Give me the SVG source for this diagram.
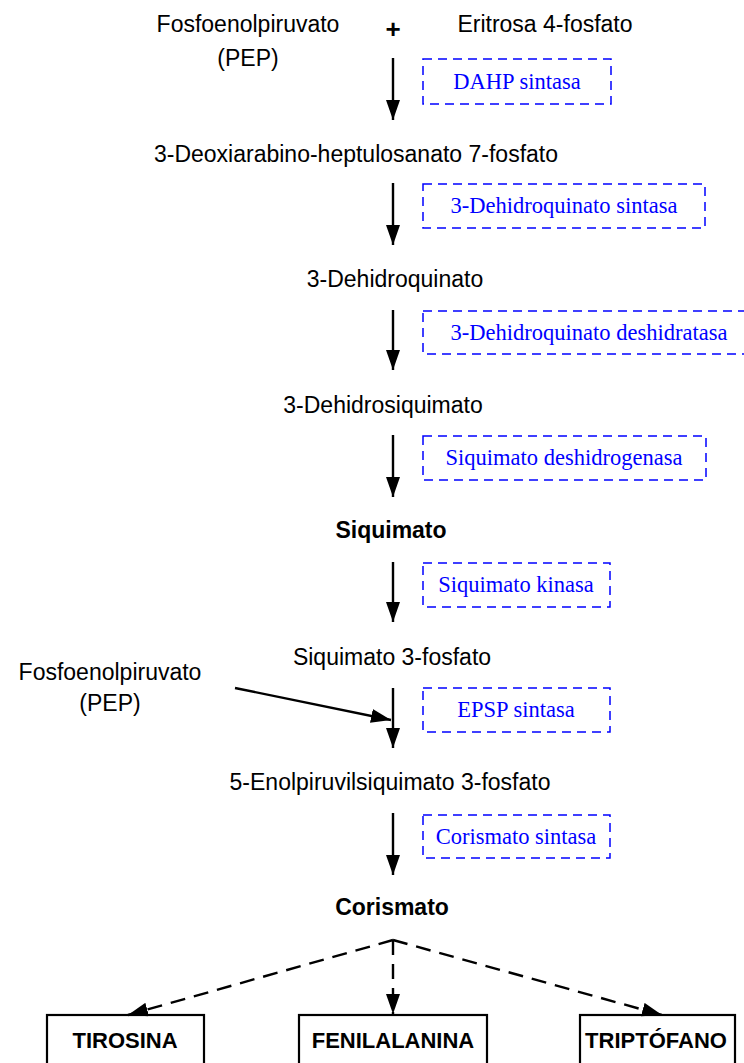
<svg xmlns="http://www.w3.org/2000/svg" width="744" height="1063" viewBox="0 0 744 1063">
<defs>
<marker id="ah" viewBox="0 0 20 14" refX="20" refY="7" markerWidth="20" markerHeight="14" markerUnits="userSpaceOnUse" orient="auto">
<path d="M0,0 L20,7 L0,14 Z" fill="#000"/>
</marker>
<style>
.t{font-family:"Liberation Sans",Arial,sans-serif;font-size:23px;fill:#000;text-anchor:middle}
.b{font-family:"Liberation Sans",Arial,sans-serif;font-size:23px;font-weight:bold;fill:#000;text-anchor:middle}
.e{font-family:"Liberation Serif","Times New Roman",serif;font-size:22.5px;fill:#0000FF;text-anchor:middle}
.eb{fill:none;stroke:#0000FF;stroke-width:1.5;stroke-dasharray:9,6}
.a{stroke:#000;stroke-width:2.4;fill:none;marker-end:url(#ah)}
.d{stroke:#000;stroke-width:2.4;fill:none;stroke-dasharray:15,9;marker-end:url(#ah)}
.pb{fill:#fff;stroke:#000;stroke-width:2.2}
</style>
</defs>
<rect width="744" height="1063" fill="#fff"/>

<g id="pep1"><text class="t" x="248" y="32">Fosfoenolpiruvato</text><text class="t" x="248" y="66">(PEP)</text></g>
<g id="plus"><text class="b" x="393" y="38" style="font-size:26px">+</text></g>
<g id="e4p"><text class="t" x="545" y="32">Eritrosa 4-fosfato</text></g>
<g id="dahp"><text class="t" x="356" y="162">3-Deoxiarabino-heptulosanato 7-fosfato</text></g>
<g id="dhq"><text class="t" x="395" y="287">3-Dehidroquinato</text></g>
<g id="dhs"><text class="t" x="383" y="413">3-Dehidrosiquimato</text></g>
<g id="siq"><text class="b" x="391" y="538">Siquimato</text></g>
<g id="s3p"><text class="t" x="392" y="665">Siquimato 3-fosfato</text></g>
<g id="pep2"><text class="t" x="110" y="680">Fosfoenolpiruvato</text><text class="t" x="110" y="711">(PEP)</text></g>
<g id="epsp"><text class="t" x="390" y="790">5-Enolpiruvilsiquimato 3-fosfato</text></g>
<g id="cor"><text class="b" x="392" y="915">Corismato</text></g>

<g id="enz1"><rect class="eb" x="423" y="59" width="188" height="45"/><text class="e" x="517" y="89">DAHP sintasa</text></g>
<g id="enz2"><rect class="eb" x="423" y="184" width="282" height="44"/><text class="e" x="564" y="213">3-Dehidroquinato sintasa</text></g>
<g id="enz3"><rect class="eb" x="423" y="311" width="330" height="43"/><text class="e" x="589" y="340">3-Dehidroquinato deshidratasa</text></g>
<g id="enz4"><rect class="eb" x="423" y="436" width="283" height="44"/><text class="e" x="564" y="465">Siquimato deshidrogenasa</text></g>
<g id="enz5"><rect class="eb" x="423" y="563" width="187" height="44"/><text class="e" x="516" y="592">Siquimato kinasa</text></g>
<g id="enz6"><rect class="eb" x="423" y="688" width="187" height="44"/><text class="e" x="516" y="717">EPSP sintasa</text></g>
<g id="enz7"><rect class="eb" x="423" y="815" width="187" height="43"/><text class="e" x="516" y="844">Corismato sintasa</text></g>

<g id="tyr"><rect class="pb" x="47" y="1015" width="157" height="70"/><text class="b" x="125" y="1048" style="font-size:22px">TIROSINA</text></g>
<g id="phe"><rect class="pb" x="299" y="1015" width="188" height="70"/><text class="b" x="393" y="1048" style="font-size:22px">FENILALANINA</text></g>
<g id="trp"><rect class="pb" x="580" y="1015" width="155" height="70"/><text class="b" x="656" y="1048" style="font-size:22px">TRIPTÓFANO</text></g>

<g id="connectors">
<line class="a" x1="393" y1="58" x2="393" y2="120"/>
<line class="a" x1="393" y1="183" x2="393" y2="245"/>
<line class="a" x1="393" y1="310" x2="393" y2="370"/>
<line class="a" x1="393" y1="435" x2="393" y2="497"/>
<line class="a" x1="393" y1="562" x2="393" y2="622"/>
<line class="a" x1="393" y1="688" x2="393" y2="748"/>
<line class="a" x1="235" y1="688" x2="391" y2="720"/>
<line class="a" x1="393" y1="813" x2="393" y2="875"/>
<line class="d" x1="393" y1="940" x2="128" y2="1015"/>
<line class="d" x1="393" y1="940" x2="393" y2="1014"/>
<line class="d" x1="393" y1="940" x2="662" y2="1015"/>
</g>
</svg>
